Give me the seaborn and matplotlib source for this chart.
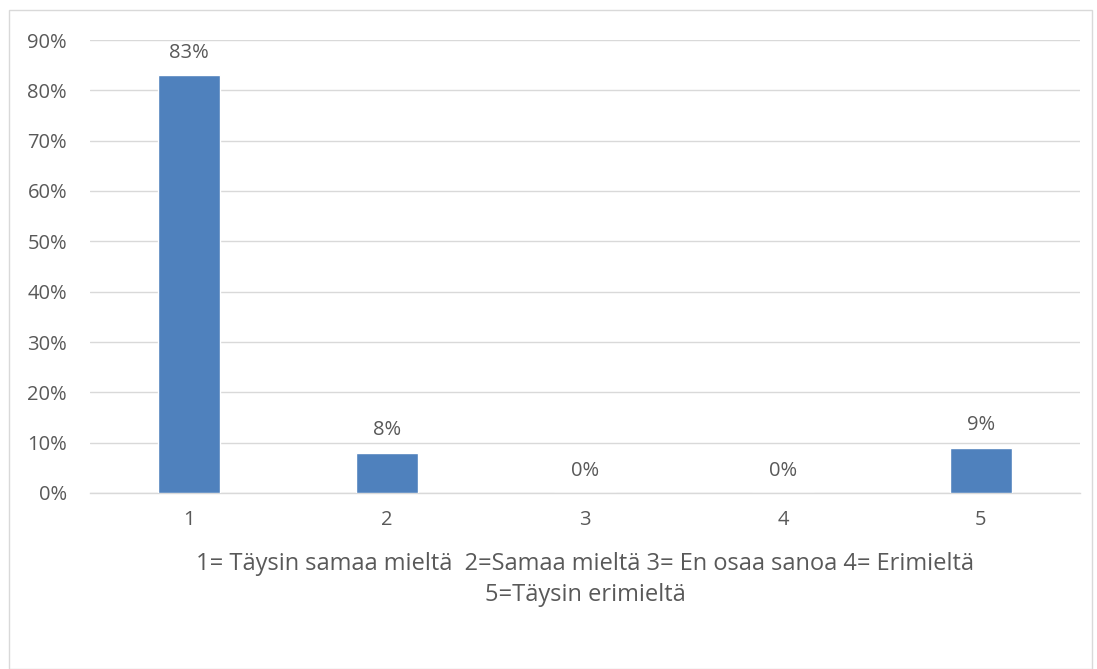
import matplotlib
matplotlib.use("Agg")
import matplotlib.pyplot as plt
import seaborn as sns
import pandas as pd
from matplotlib.patches import Rectangle

categories = ["1", "2", "3", "4", "5"]
values = [0.83, 0.08, 0.0, 0.0, 0.09]
value_labels = ["83%", "8%", "0%", "0%", "9%"]
y_ticks = [0.0, 0.1, 0.2, 0.3, 0.4, 0.5, 0.6, 0.7, 0.8, 0.9]
y_tick_labels = ["0%", "10%", "20%", "30%", "40%", "50%", "60%", "70%", "80%", "90%"]
x_title = "1= Täysin samaa mieltä  2=Samaa mieltä 3= En osaa sanoa 4= Erimieltä\n5=Täysin erimieltä"

sns.set_theme(style="white")
plt.rcParams['font.family'] = ['Open Sans', 'DejaVu Sans']

text_color = "#595959"
grid_color = "#D9D9D9"
bar_color = "#4F81BD"

fig = plt.figure(figsize=(10.97, 6.69), dpi=100)
fig.patch.set_facecolor("white")
# outer chart frame
fig.add_artist(Rectangle((9/1097, 0.0), (1092-9)/1097, (669-10)/669 - 0.0,
                         transform=fig.transFigure, fill=False,
                         edgecolor="#D9D9D9", linewidth=1.0))

ax = fig.add_axes([90/1097, 1-493/669, (1080-90)/1097, (493-40)/669])

df = pd.DataFrame({"cat": categories, "val": values})
sns.barplot(data=df, x="cat", y="val", color=bar_color, width=0.31,
            saturation=1, ax=ax, zorder=3)

ax.set_ylim(0, 0.9)
ax.set_xlim(-0.5, 4.5)
ax.set_yticks(y_ticks)
ax.set_yticklabels(y_tick_labels)
ax.yaxis.grid(True, color=grid_color, linewidth=1.0, zorder=0)
ax.set_axisbelow(True)
for s in ["top", "right", "left"]:
    ax.spines[s].set_visible(False)
ax.spines["bottom"].set_color(grid_color)
ax.spines["bottom"].set_linewidth(1.0)
ax.tick_params(axis="both", length=0, labelsize=14.5, colors=text_color)
ax.tick_params(axis="x", pad=12)
ax.tick_params(axis="y", pad=16.5)
for lab in ax.get_yticklabels():
    lab.set_horizontalalignment("right")

for i, (v, lab) in enumerate(zip(values, value_labels)):
    ax.annotate(lab, xy=(i, v), xytext=(0, 9), textcoords="offset points",
                ha="center", va="bottom", fontsize=14.5, color=text_color)

ax.set_xlabel(x_title, fontsize=17, color=text_color, labelpad=16, linespacing=1.42)
ax.set_ylabel("")

fig.savefig("out.png", dpi=100, facecolor="white")
